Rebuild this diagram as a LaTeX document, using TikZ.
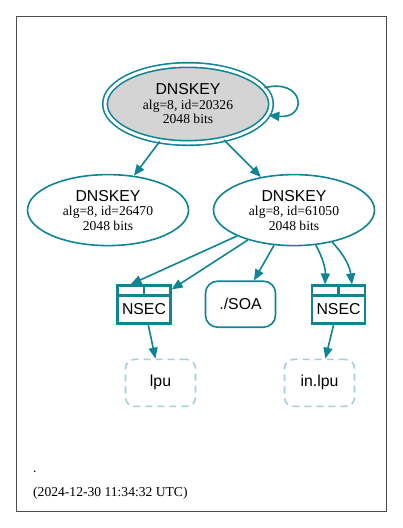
\documentclass[tikz,border=0pt]{standalone}
\usepackage{fontspec}
\setmainfont{Liberation Serif}
\setsansfont{Liberation Sans}
\usetikzlibrary{shapes.geometric, positioning, arrows.meta}
\definecolor{zoneteal}{RGB}{14,132,148}
\definecolor{faintteal}{RGB}{160,208,216}

\begin{document}
\begin{tikzpicture}[
            x=1pt, y=1pt,
            key/.style={ellipse, draw=zoneteal, line width=1.6pt, minimum width=161pt, minimum height=71pt, inner sep=0pt, align=center, font=\fontsize{13.6}{14.5}\selectfont},
            ksk/.style={key, double=white, double distance=3pt, fill=black!17, minimum width=166pt, minimum height=78pt},
            nsec/.style={rectangle, draw=zoneteal, line width=2.2pt, minimum width=53pt, minimum height=38pt, inner sep=0pt, font=\sffamily\fontsize{15.8}{16}\selectfont},
            soa/.style={rectangle, rounded corners=12pt, draw=zoneteal, line width=1.6pt, minimum width=70pt, minimum height=46pt, font=\sffamily\fontsize{15.8}{16}\selectfont},
            zone/.style={rectangle, rounded corners=9pt, draw=faintteal, line width=1.6pt, dash pattern=on 7pt off 5pt, minimum width=70pt, minimum height=47pt, font=\sffamily\fontsize{15.8}{16}\selectfont},
            foot/.style={inner sep=0pt, anchor=base west, font=\fontsize{13.6}{14}\selectfont},
            arrow/.style={-{Triangle[length=11pt, width=9pt]}, line width=1.6pt, draw=zoneteal}
        ]
            \useasboundingbox (0,0) rectangle (403,-528);
            \draw[line width=0.8pt, black!70] (16,-16) rectangle (386,-511);

            \node[ksk] (k20326) at (188,-104) {{\sffamily\fontsize{15.8}{16}\selectfont DNSKEY}\\alg=8, id=20326\\2048 bits};
            \node[key, below=30pt of k20326.south, xshift=-80pt] (k26470) {{\sffamily\fontsize{15.8}{16}\selectfont DNSKEY}\\alg=8, id=26470\\2048 bits};
            \node[key, below=30pt of k20326.south, xshift=106pt] (k61050) {{\sffamily\fontsize{15.8}{16}\selectfont DNSKEY}\\alg=8, id=61050\\2048 bits};

            \node[nsec, below=38pt of k61050.south, xshift=-150pt] (nsec1) {\rule{0pt}{20pt}NSEC};
            \node[soa, below=34pt of k61050.south, xshift=-53.5pt] (soa) {./SOA};
            \node[nsec, below=38pt of k61050.south, xshift=44.5pt] (nsec2) {\rule{0pt}{20pt}NSEC};

            \node[zone, below=34pt of nsec1.south, xshift=16.5pt] (lpu) {lpu};
            \node[zone, below=34pt of nsec2.south, xshift=-19pt] (inlpu) {in.lpu};

            % record rows of the NSEC boxes
            \foreach \rec in {nsec1, nsec2} {
                \draw[draw=zoneteal, line width=2.2pt] ([yshift=-11pt]\rec.north west) -- ([yshift=-11pt]\rec.north east);
                \draw[draw=zoneteal, line width=2.2pt] (\rec.north) -- ([yshift=-11pt]\rec.north);
            }

            \draw[arrow] (k20326.12) .. controls +(40pt,10pt) and +(40pt,-4pt) .. (k20326.-8);
            \draw[arrow] (k20326) -- (k26470);
            \draw[arrow] (k20326) -- (k61050);

            \draw[arrow] (k61050) -- ([xshift=-13.5pt]nsec1.north);
            \draw[arrow] (k61050) -- ([yshift=-5pt]nsec1.north east);
            \draw[arrow] (k61050) -- (soa);
            \draw[arrow] (k61050.-58) to[bend left=15] ([xshift=-13.5pt]nsec2.north);
            \draw[arrow] (k61050.-40) to[bend left=18] ([xshift=13.5pt]nsec2.north);

            \draw[arrow] (nsec1) -- (lpu);
            \draw[arrow] (nsec2) -- (inlpu);

            \node[foot] (dot) at (33,-472) {.};
            \node[foot] (stamp) at ([yshift=-24pt]dot.base west) {(2024-12-30 11:34:32 UTC)};
        \end{tikzpicture}
\end{document}
